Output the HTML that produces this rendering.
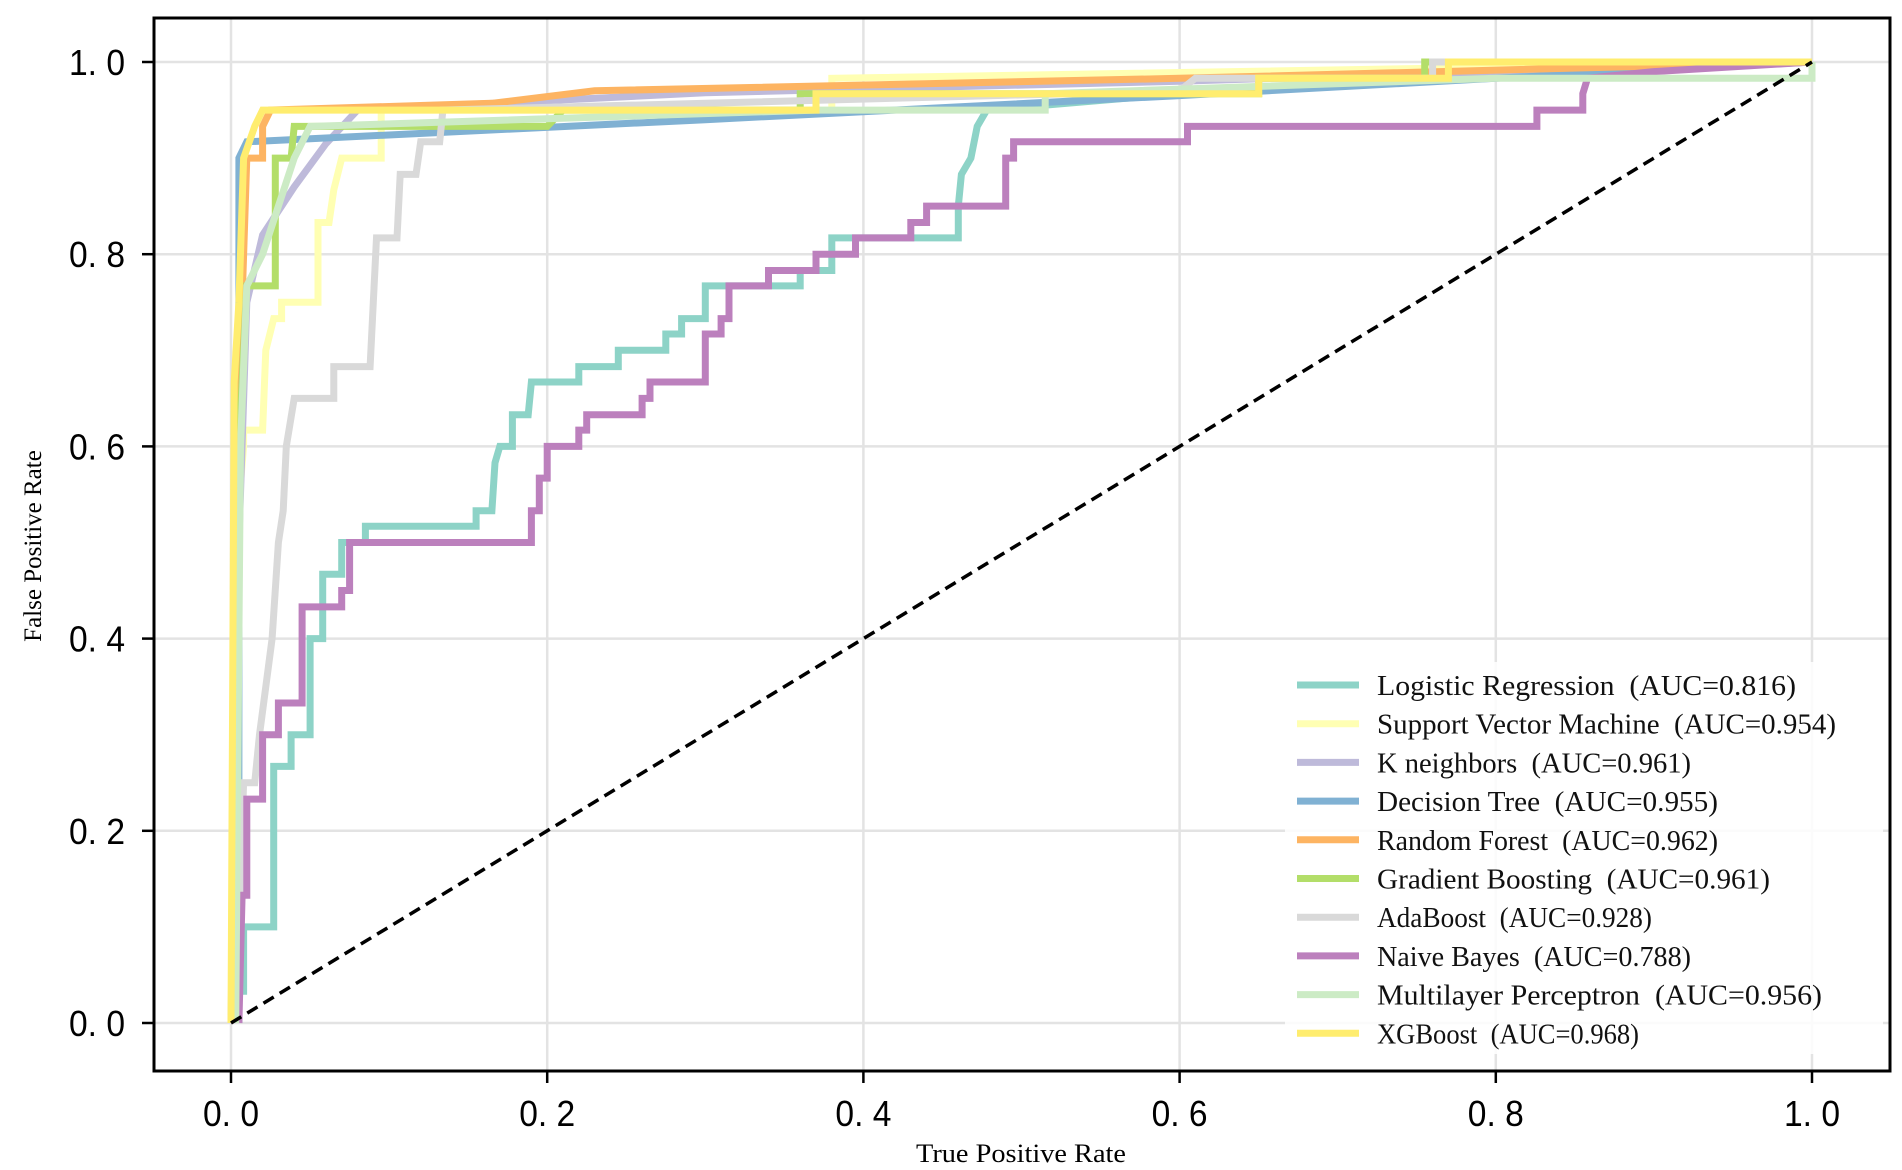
<!DOCTYPE html>
<html><head><meta charset="utf-8"><style>
html,body{margin:0;padding:0;background:#fff;}
svg{display:block;}
</style></head><body>
<svg id="chart" width="1902" height="1170" xmlns="http://www.w3.org/2000/svg">
<rect x="0" y="0" width="1902" height="1170" fill="#fff"/>
<g id="grid"></g>
<g id="series"></g>
<g id="axes"></g>
<g id="legend"></g>
</svg>
<script>
const ticks = [0, 0.2, 0.4, 0.6, 0.8, 1.0];
const tickLabels = ["0. 0", "0. 2", "0. 4", "0. 6", "0. 8", "1. 0"];
const names = ["Logistic Regression","Support Vector Machine","K neighbors","Decision Tree","Random Forest","Gradient Boosting","AdaBoost","Naive Bayes","Multilayer Perceptron","XGBoost"];
const aucs = ["0.816","0.954","0.961","0.955","0.962","0.961","0.928","0.788","0.956","0.968"];
const colors = ["#8dd3c7","#ffffb3","#bebada","#80b1d3","#fdb462","#b3de69","#d9d9d9","#bc80bd","#ccebc5","#ffed6f"];
const lrPts = [[0.005,0],[0.005,0.033],[0.008,0.033],[0.008,0.1],[0.027,0.1],[0.027,0.267],[0.038,0.267],[0.038,0.3],[0.05,0.3],[0.05,0.4],[0.058,0.4],[0.058,0.467],[0.07,0.467],[0.07,0.5],[0.085,0.5],[0.085,0.517],[0.155,0.517],[0.155,0.533],[0.165,0.533],[0.167,0.583],[0.17,0.6],[0.178,0.6],[0.178,0.633],[0.188,0.633],[0.19,0.667],[0.22,0.667],[0.22,0.683],[0.245,0.683],[0.245,0.7],[0.275,0.7],[0.275,0.717],[0.285,0.717],[0.285,0.733],[0.3,0.733],[0.3,0.767],[0.36,0.767],[0.36,0.783],[0.38,0.783],[0.38,0.817],[0.46,0.817],[0.46,0.85],[0.462,0.883],[0.468,0.9],[0.472,0.933],[0.478,0.95],[0.6,0.967],[1,1]];
const svmPts = [[0.002,0],[0.003,0.5],[0.008,0.6],[0.008,0.617],[0.02,0.617],[0.022,0.7],[0.027,0.733],[0.032,0.733],[0.032,0.75],[0.055,0.75],[0.055,0.833],[0.062,0.833],[0.065,0.867],[0.07,0.9],[0.095,0.9],[0.095,0.95],[0.38,0.95],[0.38,0.983],[1,1]];
const knnPts = [[0,0],[0.005,0.5],[0.01,0.75],[0.02,0.82],[0.04,0.87],[0.06,0.915],[0.08,0.95],[0.3,0.968],[0.6,0.98],[1,1]];
const dtPts = [[0.005,0],[0.005,0.767],[0.005,0.9],[0.01,0.917],[0.3,0.94],[0.6,0.965],[0.8,0.983],[1,1]];
const rfPts = [[0.003,0],[0.004,0.6],[0.01,0.9],[0.02,0.9],[0.02,0.933],[0.025,0.95],[0.165,0.957],[0.23,0.97],[0.6,0.983],[1,1]];
const gbPts = [[0.003,0],[0.005,0.6],[0.01,0.767],[0.028,0.767],[0.028,0.9],[0.038,0.9],[0.04,0.933],[0.2,0.933],[0.21,0.95],[0.36,0.95],[0.36,0.967],[0.65,0.967],[0.65,0.983],[0.755,0.983],[0.755,1],[1,1]];
const adaPts = [[0.003,0],[0.008,0.25],[0.015,0.25],[0.018,0.3],[0.022,0.35],[0.026,0.4],[0.03,0.5],[0.033,0.533],[0.035,0.6],[0.04,0.65],[0.065,0.65],[0.065,0.683],[0.088,0.683],[0.09,0.75],[0.092,0.817],[0.105,0.817],[0.107,0.883],[0.117,0.883],[0.12,0.917],[0.132,0.917],[0.134,0.95],[0.6,0.97],[0.61,0.983],[0.76,0.983],[0.76,1],[1,1]];
const nbPts = [[0.005,0],[0.007,0.133],[0.01,0.133],[0.01,0.233],[0.02,0.233],[0.02,0.3],[0.03,0.3],[0.03,0.333],[0.045,0.333],[0.045,0.433],[0.07,0.433],[0.07,0.45],[0.075,0.45],[0.075,0.5],[0.19,0.5],[0.19,0.533],[0.195,0.533],[0.195,0.567],[0.2,0.567],[0.2,0.6],[0.22,0.6],[0.22,0.617],[0.225,0.617],[0.225,0.633],[0.26,0.633],[0.26,0.65],[0.265,0.65],[0.265,0.667],[0.3,0.667],[0.3,0.717],[0.31,0.717],[0.31,0.733],[0.315,0.733],[0.315,0.767],[0.34,0.767],[0.34,0.783],[0.37,0.783],[0.37,0.8],[0.395,0.8],[0.395,0.817],[0.43,0.817],[0.43,0.833],[0.44,0.833],[0.44,0.85],[0.49,0.85],[0.49,0.9],[0.495,0.9],[0.495,0.917],[0.605,0.917],[0.605,0.933],[0.826,0.933],[0.826,0.95],[0.855,0.95],[0.855,0.967],[0.858,0.983],[0.9,0.99],[1,1]];
const mlpPts = [[0.003,0],[0.006,0.6],[0.01,0.767],[0.02,0.8],[0.03,0.85],[0.04,0.9],[0.05,0.933],[0.37,0.95],[0.515,0.95],[0.515,0.967],[0.8,0.983],[1,0.983],[1,1]];
const xgbPts = [[0,0],[0.002,0.667],[0.005,0.75],[0.008,0.9],[0.015,0.933],[0.02,0.95],[0.37,0.95],[0.37,0.967],[0.65,0.967],[0.65,0.983],[0.77,0.983],[0.77,1],[1,1]];
const allSeries = [lrPts, svmPts, knnPts, dtPts, rfPts, gbPts, adaPts, nbPts, mlpPts, xgbPts];

const NS = "http://www.w3.org/2000/svg";
const X0 = 231, X1 = 1812, Y0 = 1023, Y1 = 62;
const L = 154, R = 1890, T = 18, B = 1071;
function sx(v){ return X0 + v * (X1 - X0); }
function sy(v){ return Y0 - v * (Y0 - Y1); }
function mk(tag, attrs, parent){ const e = document.createElementNS(NS, tag); for (const k in attrs) e.setAttribute(k, attrs[k]); parent.appendChild(e); return e; }

const grid = document.getElementById('grid');
const axes = document.getElementById('axes');
const series = document.getElementById('series');
const legend = document.getElementById('legend');

ticks.forEach((t, i) => {
  const gv = mk('line', {x1: sx(t), x2: sx(t), y1: T, y2: B, stroke: '#e3e3e3', 'stroke-width': 2.5}, grid);
  
  
  const gh = mk('line', {x1: L, x2: R, y1: sy(t), y2: sy(t), stroke: '#e3e3e3', 'stroke-width': 2.5}, grid);
  
  
  const tx = mk('line', {x1: sx(t), x2: sx(t), y1: B, y2: B + 12, stroke: '#000', 'stroke-width': 2.5}, axes);
  
  
  const ty = mk('line', {x1: L - 12, x2: L, y1: sy(t), y2: sy(t), stroke: '#000', 'stroke-width': 2.5}, axes);
  
  
  const lx = mk('text', {x: sx(t), y: B + 55, 'text-anchor': 'middle', 'font-family': 'Liberation Sans, DejaVu Sans, sans-serif', 'font-size': 36, fill: '#000', textLength: 56, lengthAdjust: 'spacingAndGlyphs'}, axes);
  lx.textContent = tickLabels[i];
  
  
  const ly = mk('text', {x: 125, y: sy(t) + 13, 'text-anchor': 'end', 'font-family': 'Liberation Sans, DejaVu Sans, sans-serif', 'font-size': 36, fill: '#000', textLength: 56, lengthAdjust: 'spacingAndGlyphs'}, axes);
  ly.textContent = tickLabels[i];
  
  
});

allSeries.forEach((pts, i) => {
  const d = pts.map((p, j) => (j ? 'L' : 'M') + sx(p[0]).toFixed(1) + ' ' + sy(p[1]).toFixed(1)).join(' ');
  const p = mk('path', {d: d, fill: 'none', stroke: colors[i], 'stroke-width': 7, 'stroke-linejoin': 'miter'}, series);
  
  
});
const diag = mk('line', {x1: sx(0), y1: sy(0), x2: sx(1), y2: sy(1), stroke: '#000', 'stroke-width': 3.5, 'stroke-dasharray': '12 7'}, series);



const frame = mk('rect', {x: L, y: T, width: R - L, height: B - T, fill: 'none', stroke: '#000', 'stroke-width': 3}, axes);



const xt = mk('text', {x: 1021, y: 1162, 'text-anchor': 'middle', 'font-family': 'Liberation Serif, serif', 'font-size': 26, fill: '#000', textLength: 210, lengthAdjust: 'spacingAndGlyphs'}, axes);
xt.textContent = 'True Positive Rate';


const yt = mk('text', {x: 0, y: 0, 'text-anchor': 'middle', 'font-family': 'Liberation Serif, serif', 'font-size': 25, fill: '#000', transform: 'translate(41,546) rotate(-90)'}, axes);
yt.textContent = 'False Positive Rate';



const lbg = mk('rect', {x: 1285, y: 662, width: 598, height: 392, fill: '#fff', opacity: 0.85}, legend);


names.forEach((n, i) => {
  const y = 685 + i * 38.7;
  const g = mk('g', {}, legend);
  
  
  const ln = mk('line', {x1: 1297, x2: 1359, y1: y, y2: y, stroke: colors[i], 'stroke-width': 7}, g);
  
  
  const full = n + '\u00a0\u00a0(AUC=' + aucs[i] + ')';
  const t = mk('text', {x: 1377, y: y + 10, 'font-family': 'Liberation Serif, serif', 'font-size': 29, fill: '#111'}, g);
  t.textContent = full;
  t.setAttribute('textLength', (full.length * 13.1).toFixed(0));
  t.setAttribute('lengthAdjust', 'spacingAndGlyphs');
  
  
});
</script>
</body></html>
